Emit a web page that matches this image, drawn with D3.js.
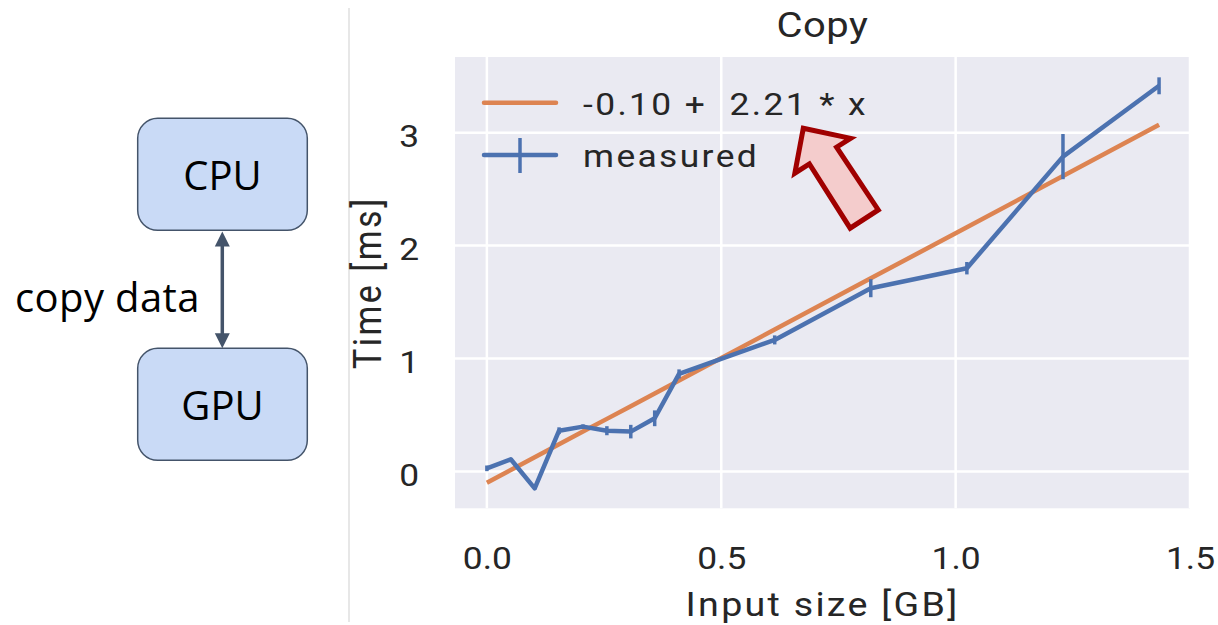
<!DOCTYPE html>
<html>
<head>
<meta charset="utf-8">
<script src="https://cdn.jsdelivr.net/npm/d3@7"></script>
<style>
  body { margin: 0; background: #fff; }
  text { font-family: Roboto, sans-serif; fill: #262626; }
  .wide { transform-box: fill-box; transform-origin: center; transform: scaleX(1.14); }
  .diagram text { font-family: "Open Sans", sans-serif; fill: #000; }
</style>
</head>
<body>
<div id="chart"></div>
<script>
// input size [GB] and measured copy time [ms]
const sizes = [0.0, 0.051, 0.102, 0.154, 0.205, 0.256, 0.307, 0.358, 0.41, 0.614, 0.819, 1.024, 1.229, 1.434];
const times = [0.028, 0.108, -0.149, 0.361, 0.397, 0.361, 0.353, 0.471, 0.864, 1.165, 1.623, 1.80, 2.788, 3.415];
const errors = [0.025, 0.01, 0.01, 0.03, 0.02, 0.04, 0.06, 0.07, 0.04, 0.04, 0.08, 0.055, 0.2, 0.075];
const intercept = -0.10, slope = 2.21;
const xTicks = [0.0, 0.5, 1.0, 1.5];
const yTicks = [0, 1, 2, 3];
// annotation arrow outline, in data units
const arrowPts = [[0.675, 3.039], [0.776, 2.950], [0.746, 2.871], [0.835, 2.316],
  [0.775, 2.154], [0.688, 2.723], [0.657, 2.641]];

const W = 1218, H = 625;
const plot = { left: 455, right: 1190, top: 57, bottom: 508.3 };

const svg = d3.select('#chart').append('svg')
  .attr('width', W).attr('height', H);

// ---- left diagram ----
const dia = svg.append('g').attr('class', 'diagram');
const boxes = [{ label: 'CPU', y: 118.3 }, { label: 'GPU', y: 348.3 }];
dia.selectAll('rect').data(boxes).enter().append('rect')
  .attr('x', 137.7).attr('y', d => d.y)
  .attr('width', 169.6).attr('height', 112)
  .attr('rx', 20)
  .attr('fill', '#C9DAF6')
  .attr('stroke', '#44546A').attr('stroke-width', 1.5);
dia.selectAll('text.box').data(boxes).enter().append('text')
  .attr('class', 'box')
  .attr('x', 222.5).attr('y', d => d.y + 72)
  .attr('text-anchor', 'middle')
  .style('font-size', '40px')
  .text(d => d.label);

const ax = 222.3, ay1 = 231.5, ay2 = 348.3;
dia.append('line')
  .attr('x1', ax).attr('x2', ax).attr('y1', ay1 + 12).attr('y2', ay2 - 12)
  .attr('stroke', '#44546A').attr('stroke-width', 3.5);
dia.append('path')
  .attr('d', `M${ax},${ay1} l7.5,15 l-15,0 Z M${ax},${ay2} l7.5,-15 l-15,0 Z`)
  .attr('fill', '#44546A');
dia.append('text')
  .attr('x', 15).attr('y', 311.5)
  .style('font-size', '40px')
  .style('letter-spacing', '0.4px')
  .text('copy data');

svg.append('line')
  .attr('x1', 349).attr('x2', 349).attr('y1', 8).attr('y2', 622)
  .attr('stroke', '#cfcfcf').attr('stroke-width', 1);

// ---- chart ----
const x = d3.scaleLinear().domain([-0.068, 1.5]).range([plot.left, plot.right]);
const y = d3.scaleLinear().domain([-0.326, 3.67]).range([plot.bottom, plot.top]);

svg.append('rect')
  .attr('x', plot.left).attr('y', plot.top)
  .attr('width', plot.right - plot.left).attr('height', plot.bottom - plot.top)
  .attr('fill', '#EAEAF2');

// grid
const grid = svg.append('g');
grid.selectAll('line.v').data(xTicks).enter().append('line')
  .attr('x1', d => x(d)).attr('x2', d => x(d))
  .attr('y1', plot.top).attr('y2', plot.bottom)
  .attr('stroke', '#fff').attr('stroke-width', 2.5);
grid.selectAll('line.h').data(yTicks).enter().append('line')
  .attr('y1', d => y(d)).attr('y2', d => y(d))
  .attr('x1', plot.left).attr('x2', plot.right)
  .attr('stroke', '#fff').attr('stroke-width', 2.5);

// axes (labels only)
const xAxis = svg.append('g')
  .attr('transform', `translate(0,${plot.bottom})`)
  .call(d3.axisBottom(x).tickValues(xTicks).tickFormat(d => d.toFixed(1)).tickSize(0));
xAxis.select('.domain').remove();
xAxis.selectAll('text')
  .attr('y', 60.7).attr('dy', 0)
  .attr('class', 'wide')
  .style('font-size', '31px').style('fill', '#262626');

const yAxis = svg.append('g')
  .attr('transform', `translate(${plot.left},0)`)
  .call(d3.axisLeft(y).tickValues(yTicks).tickFormat(d => String(d)).tickSize(0));
yAxis.select('.domain').remove();
yAxis.selectAll('text')
  .attr('x', -37).attr('dy', '0.45em')
  .attr('class', 'wide')
  .style('font-size', '31px').style('fill', '#262626');

// fitted line
const fit = sizes.map(s => [s, intercept + slope * s]);
svg.append('path')
  .datum(fit)
  .attr('d', d3.line().x(d => x(d[0])).y(d => y(d[1])))
  .attr('fill', 'none')
  .attr('stroke', '#DD8452').attr('stroke-width', 4.5);

// measured line with error bars
const meas = sizes.map((s, i) => ({ s: s, t: times[i], e: errors[i] }));
svg.append('path')
  .datum(meas)
  .attr('d', d3.line().x(d => x(d.s)).y(d => y(d.t)))
  .attr('fill', 'none')
  .attr('stroke', '#4C72B0').attr('stroke-width', 4.5)
  .attr('stroke-linejoin', 'round');
svg.selectAll('line.err').data(meas).enter().append('line')
  .attr('class', 'err')
  .attr('x1', d => x(d.s)).attr('x2', d => x(d.s))
  .attr('y1', d => y(d.t - d.e)).attr('y2', d => y(d.t + d.e))
  .attr('stroke', '#4C72B0').attr('stroke-width', 3.5);

// legend
const lg = svg.append('g');
lg.append('line')
  .attr('x1', 484).attr('x2', 556).attr('y1', 102.7).attr('y2', 102.7)
  .attr('stroke', '#DD8452').attr('stroke-width', 4.5).attr('stroke-linecap', 'round');
lg.append('line')
  .attr('x1', 484).attr('x2', 556).attr('y1', 155).attr('y2', 155)
  .attr('stroke', '#4C72B0').attr('stroke-width', 4.5).attr('stroke-linecap', 'round');
lg.append('line')
  .attr('x1', 520).attr('x2', 520).attr('y1', 138).attr('y2', 173)
  .attr('stroke', '#4C72B0').attr('stroke-width', 3.5);
const legendLabels = [`${intercept.toFixed(2)} +  ${slope.toFixed(2)} * x`, 'measured'];
lg.selectAll('g.lab').data(legendLabels).enter().append('g')
  .attr('class', 'lab')
  .attr('transform', (d, i) => `translate(583,${115 + i * 52}) scale(1.14,1)`)
  .append('text')
  .style('font-size', '31px')
  .style('letter-spacing', '2.1px')
  .style('white-space', 'pre')
  .text(d => d);

// arrow annotation
svg.append('path')
  .datum(arrowPts)
  .attr('d', d3.line().x(d => x(d[0])).y(d => y(d[1])).curve(d3.curveLinearClosed))
  .attr('fill', '#F4CCCC')
  .attr('stroke', '#A00000').attr('stroke-width', 5)
  .attr('stroke-linejoin', 'miter');

// titles
const cx = (plot.left + plot.right) / 2;
svg.append('g')
  .attr('transform', `translate(${cx},37) scale(1.14,1)`)
  .append('text')
  .attr('text-anchor', 'middle')
  .style('font-size', '35px')
  .style('letter-spacing', '0.5px')
  .text('Copy');
svg.append('g')
  .attr('transform', `translate(${cx},616) scale(1.14,1)`)
  .append('text')
  .attr('text-anchor', 'middle')
  .style('font-size', '33px')
  .style('letter-spacing', '2px')
  .text('Input size [GB]');
svg.append('g')
  .attr('transform', `translate(381,${(plot.top + plot.bottom) / 2}) scale(1.14,1) rotate(-90)`)
  .append('text')
  .attr('text-anchor', 'middle')
  .style('font-size', '34px')
  .style('letter-spacing', '2.5px')
  .text('Time [ms]');
</script>
</body>
</html>
